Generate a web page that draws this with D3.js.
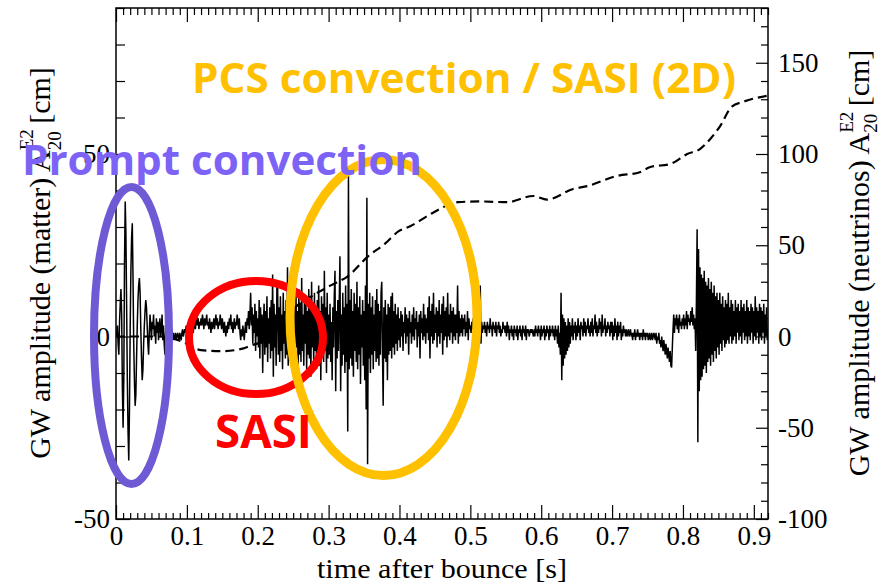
<!DOCTYPE html>
<html>
<head>
<meta charset="utf-8">
<script src="https://cdn.jsdelivr.net/npm/d3@7"></script>
<style>
  body { margin: 0; background: #fff; }
  svg { display: block; }
</style>
</head>
<body>
<svg id="chart" width="884" height="586"></svg>
<script>
// ---- tick labels ----
const timeTicks = [0, 0.1, 0.2, 0.3, 0.4, 0.5, 0.6, 0.7, 0.8, 0.9];
const matterTicks = [-50, 0, 50];
const neutrinoTicks = [-100, -50, 0, 50, 100, 150];

// ---- neutrino-induced amplitude A20 (dashed, right axis) ----
const neutrinoTime = [0, 0.03, 0.06, 0.08, 0.10, 0.12, 0.15, 0.18, 0.19, 0.21, 0.23, 0.25, 0.28, 0.303, 0.327, 0.356, 0.38, 0.399, 0.415, 0.448, 0.482, 0.514, 0.552, 0.589, 0.608, 0.645, 0.665, 0.707, 0.739, 0.754, 0.782, 0.806, 0.824, 0.838, 0.852, 0.869, 0.885, 0.92];
const neutrinoAmp = [0, 0, 0, -1, -4, -7.5, -8, -6.5, -5, -2, 6, 15, 23, 28, 33, 44, 51, 57.7, 60.4, 68, 73.6, 74, 73.6, 77, 75, 80.8, 82.4, 88, 90, 92.9, 94.5, 100, 102.7, 108, 115, 126, 128.6, 132];

// ---- matter amplitude A20 (solid, left axis), one sample per millisecond ----
const matterStep = 0.001;
const matterPrompt = [ // 0.000 - 0.099 s
  0,1,3,-2,-5,4,9,13,6,-14,
  -25,-12,20,37,28,8,-12,-26,-34,-20,
  2,18,27,31,16,-2,-12,-19,-16,-6,
  3,10,14,16,12,2,-6,-12,-9,-2,
  3,7,10,8,3,-2,-5,1,6,3,
  -1,4,2,6,0,3,-2,5,1,4,
  -1,3,5,0,2,6,-1,3,-2,-5,
  1,4,0,3,1,2,-1,1,0,2,
  0,1,-1,0,1,-1,0,1,0,-1,
  1,0,-1,1,2,0,1,2,1,3
];
const matterQuiet = [ // 0.100 - 0.199 s
  2,3,1,4,2,5,3,2,4,1,
  3,5,2,4,6,3,5,2,4,3,
  5,3,6,4,2,5,3,4,6,3,
  4,2,5,3,1,4,2,3,5,2,
  4,6,3,5,2,4,3,6,4,2,
  5,3,1,4,2,0,3,1,4,2,
  5,3,6,2,4,1,3,5,2,4,
  3,6,4,2,5,1,-1,2,0,3,
  1,-1,2,4,1,5,3,7,2,6,
  12,3,8,-2,6,1,9,-4,7,0
];
const matterSasi = [ // 0.200 - 0.299 s
  5,-3,10,-6,8,-2,6,-10,4,9,
  -5,7,-3,11,-7,5,-2,8,-6,10,
  -4,17,-11,9,-3,6,-8,13,15,-5,
  8,-7,11,-4,6,-9,12,-2,7,-6,
  10,-5,19,-8,6,-3,12,-7,9,-4,
  14,-6,8,-9,11,-3,7,-10,13,-5,
  9,-7,16,-4,6,-8,11,-2,10,-9,
  7,-5,13,-6,9,-11,15,-3,8,-7,
  12,-4,6,-9,10,-6,14,-8,7,-12,
  11,-5,9,-7,18,-4,8,-10,12,-6
];
const matterPcs = [ // 0.300 - 0.399 s
  6,-5,9,-7,4,-12,8,-3,11,18,
  -15,7,-6,10,-4,9,22,-15,6,-8,
  12,-5,8,-10,14,-7,9,-26,44,-9,
  10,-6,13,-8,7,-11,12,-4,9,-7,
  15,-9,8,-5,11,-13,6,-3,10,-8,
  7,-12,14,-20,38,-35,9,-6,12,-10,
  8,-5,11,-9,6,-4,10,-7,13,-6,
  9,-8,7,-5,12,15,-4,-19,8,-6,
  10,-7,6,-12,9,-5,8,-4,11,-6,
  12,-3,7,-5,9,-2,6,-4,8,-1
];
const matterPcsLate = [ // 0.400 - 0.499 s
  5,-3,7,0,6,-4,4,1,8,-2,
  6,0,5,-5,7,1,4,-2,6,0,
  8,-1,5,2,7,-3,4,0,6,-6,
  7,1,5,-1,9,0,6,-2,5,1,
  8,-1,11,-6,7,0,9,-2,12,-1,
  6,1,8,-3,7,0,10,-2,6,1,
  9,-5,11,-1,7,0,8,-3,12,0,
  6,-1,9,1,7,-2,8,0,6,-1,
  6,1,14,-2,7,0,5,1,6,0,
  5,2,6,0,4,1,7,-1,5,2
];
const matterCalm = [ // 0.500 - 0.599 s
  3,1,4,2,5,1,3,2,4,0,
  3,1,5,2,14,-2,4,1,3,2,
  4,1,3,0,4,2,3,1,5,2,
  3,0,4,2,3,1,4,0,3,2,
  4,1,3,0,2,1,4,2,3,1,
  3,0,4,1,3,-1,2,1,3,0,
  2,-1,3,1,2,0,3,-1,2,1,
  3,0,2,-1,3,1,2,0,3,-1,
  2,1,2,0,1,2,1,2,1,0,
  2,0,3,1,2,0,3,1,2,-1
];
const matterBurst = [ // 0.600 - 0.699 s
  3,0,2,1,3,-1,2,0,3,1,
  2,-1,3,0,2,1,3,0,2,-1,
  3,0,2,-2,3,-3,1,-5,12,-12,
  6,-8,5,-6,4,-5,3,-4,5,-3,
  4,-2,3,0,5,-1,3,1,4,-1,
  3,0,5,1,3,-1,4,2,3,0,
  5,1,4,0,3,2,5,1,3,0,
  4,1,5,0,3,2,6,1,4,0,
  3,1,5,2,4,0,6,1,3,2,
  5,0,3,1,4,2,3,0,4,1
];
const matterDip = [ // 0.700 - 0.799 s
  4,-1,3,0,5,1,3,-1,4,0,
  3,1,4,-1,2,0,3,1,2,0,
  2,0,1,2,0,1,2,0,1,-1,
  1,0,2,-1,1,0,2,0,1,-1,
  1,0,1,-1,2,0,1,-1,1,0,
  1,-1,0,1,-1,0,1,-1,0,1,
  0,-1,1,-2,0,-1,1,-2,-1,-3,
  0,-2,-4,-1,-3,-5,-2,-4,-6,-3,
  -5,-7,-4,-8,-8.5,-3,2,6,1,5,
  3,6,2,5,1,6,3,4,2,5
];
const matterFinal = [ // 0.800 - 0.920 s
  3,6,2,5,3,7,2,6,4,5,
  3,7,4,8,3,6,2,5,-4,10,
  29.4,-29,24,-15,19,-12,17,-11,16,-9,
  18,-8,15,-10,14,-7,16,-6,13,-8,
  15,-5,12,-7,14,-4,11,-6,12,-3,
  10,-5,12,-2,9,-4,11,-1,8,-3,
  10,-2,9,-1,12,-2,8,0,10,-2,
  9,-1,7,0,10,-2,8,1,9,-1,
  7,0,10,-2,8,1,9,-1,7,0,
  10,-2,8,0,7,-1,9,1,8,-2,
  7,0,11,-1,8,1,7,-2,9,0,
  8,-1,7,1,9,-2,6,0,8,-1,
  2
];

// ---- annotations ----
const regionLabels = ["Prompt convection", "PCS convection / SASI (2D)", "SASI"];

const plot = { left: 116, right: 768, top: 8, bottom: 519 };
const serif = "'Liberation Serif', 'Times New Roman', serif";
const sans = "'Open Sans', 'Noto Sans', sans-serif";

const svg = d3.select("#chart");

const x = d3.scaleLinear().domain([0, 0.92]).range([plot.left, plot.right]);
const yL = d3.scaleLinear().domain([-50, 90]).range([plot.bottom, plot.top]);
const yR = d3.scaleLinear().domain([-100, 180]).range([plot.bottom, plot.top]);

svg.append("defs").append("clipPath").attr("id", "plotClip")
  .append("rect")
  .attr("x", plot.left).attr("y", plot.top)
  .attr("width", plot.right - plot.left).attr("height", plot.bottom - plot.top);

// ---- series ----
const matter = [].concat(matterPrompt, matterQuiet, matterSasi, matterPcs, matterPcsLate,
  matterCalm, matterBurst, matterDip, matterFinal)
  .map((v, i) => [i * matterStep, v]);

const series = svg.append("g").attr("clip-path", "url(#plotClip)");

series.append("path")
  .datum(matter)
  .attr("fill", "none")
  .attr("stroke", "#000")
  .attr("stroke-width", 1.5)
  .attr("stroke-linejoin", "miter")
  .attr("d", d3.line().x(d => x(d[0])).y(d => yL(d[1])));

series.append("path")
  .datum(neutrinoTime.map((t, i) => [t, neutrinoAmp[i]]))
  .attr("fill", "none")
  .attr("stroke", "#000")
  .attr("stroke-width", 2.2)
  .attr("stroke-dasharray", "9,5")
  .attr("d", d3.line().curve(d3.curveMonotoneX).x(d => x(d[0])).y(d => yR(d[1])));

// ---- axes (ticks point into the frame) ----
function range(a, b, s) { const r = []; for (let v = a; v <= b + 1e-9; v += s) r.push(+v.toFixed(4)); return r; }
const minorT = range(0, 0.92, 0.01).filter(v => Math.abs(v * 10 - Math.round(v * 10)) > 1e-6);
const minorL = range(-50, 90, 10).filter(v => v % 50 !== 0);
const minorR = range(-100, 180, 10).filter(v => v % 50 !== 0);
const plain = d => String(d);

function styleAxis(g) {
  g.select(".domain").remove();
  g.selectAll("line").attr("stroke", "#000").attr("stroke-width", 1.2);
  g.selectAll("text").attr("font-family", serif).attr("font-size", 27).attr("fill", "#000");
}

// bottom
svg.append("g").attr("transform", `translate(0,${plot.bottom})`)
  .call(d3.axisBottom(x).tickValues(minorT).tickSize(-6).tickFormat("")).call(styleAxis);
svg.append("g").attr("transform", `translate(0,${plot.bottom})`)
  .call(d3.axisBottom(x).tickValues(timeTicks).tickSize(-14).tickPadding(7)
    .tickFormat(d => d === 0 ? "0" : d3.format(".1f")(d))).call(styleAxis);
// top
svg.append("g").attr("transform", `translate(0,${plot.top})`)
  .call(d3.axisTop(x).tickValues(minorT).tickSize(-7).tickFormat("")).call(styleAxis);
svg.append("g").attr("transform", `translate(0,${plot.top})`)
  .call(d3.axisTop(x).tickValues(timeTicks).tickSize(-14).tickFormat("")).call(styleAxis);
// left
svg.append("g").attr("transform", `translate(${plot.left},0)`)
  .call(d3.axisLeft(yL).tickValues(minorL).tickSize(-9).tickFormat("")).call(styleAxis);
svg.append("g").attr("transform", `translate(${plot.left},0)`)
  .call(d3.axisLeft(yL).tickValues(matterTicks).tickSize(-14).tickPadding(6).tickFormat(plain)).call(styleAxis);
// right
svg.append("g").attr("transform", `translate(${plot.right},0)`)
  .call(d3.axisRight(yR).tickValues(minorR).tickSize(-7).tickFormat("")).call(styleAxis);
svg.append("g").attr("transform", `translate(${plot.right},0)`)
  .call(d3.axisRight(yR).tickValues(neutrinoTicks).tickSize(-12).tickPadding(10).tickFormat(plain)).call(styleAxis);

// frame
svg.append("rect")
  .attr("x", plot.left).attr("y", plot.top)
  .attr("width", plot.right - plot.left).attr("height", plot.bottom - plot.top)
  .attr("fill", "none").attr("stroke", "#000").attr("stroke-width", 1.5);

// ---- axis titles ----
svg.append("text")
  .attr("x", 442).attr("y", 578)
  .attr("text-anchor", "middle")
  .attr("font-family", serif).attr("font-size", 28)
  .attr("textLength", 250).attr("lengthAdjust", "spacingAndGlyphs")
  .text("time after bounce [s]");

function ampTitle(baseX, midY, label, supRise, subDrop) {
  const t = svg.append("text")
    .attr("transform", `translate(${baseX},${midY}) rotate(-90)`)
    .attr("font-family", serif).attr("font-size", 30).attr("fill", "#000");
  t.append("tspan").text(label + " A");
  const sup = t.append("tspan").attr("font-size", 19).attr("dy", -supRise).text("E2");
  const w = sup.node().getComputedTextLength();
  t.append("tspan").attr("font-size", 19).attr("dx", -w).attr("dy", supRise + subDrop).text("20");
  t.append("tspan").attr("dy", -subDrop).text(" [cm]");
  const bb = t.node().getBBox();
  t.attr("x", -bb.width / 2 - bb.x);
}
ampTitle(50, 263, "GW amplitude (matter)", 17, 11);
ampTitle(869, 263, "GW amplitude (neutrinos)", 16, 8);

// ---- region highlights ----
const marks = svg.append("g").attr("fill", "none").attr("stroke-width", 8);
marks.append("ellipse").attr("cx", 131.5).attr("cy", 335.5).attr("rx", 37.5).attr("ry", 148.5).attr("stroke", "#7059D4");
marks.append("ellipse").attr("cx", 256).attr("cy", 337.5).attr("rx", 67).attr("ry", 56.5).attr("stroke", "#FF0000");
marks.append("ellipse").attr("cx", 383.5).attr("cy", 317.5).attr("rx", 93.5).attr("ry", 158).attr("stroke", "#FFC000").attr("stroke-width", 9);

const labels = svg.append("g").attr("font-family", sans).attr("font-weight", 700);
labels.append("text").attr("x", 22).attr("y", 175).attr("font-size", 42)
  .attr("fill", "#7C63F5").attr("textLength", 400).attr("lengthAdjust", "spacingAndGlyphs")
  .text(regionLabels[0]);
labels.append("text").attr("x", 192).attr("y", 93).attr("font-size", 42)
  .attr("fill", "#FFC000").attr("textLength", 544).attr("lengthAdjust", "spacingAndGlyphs")
  .text(regionLabels[1]);
labels.append("text").attr("x", 215).attr("y", 448).attr("font-size", 46)
  .attr("fill", "#FF0000").attr("textLength", 97).attr("lengthAdjust", "spacingAndGlyphs")
  .text(regionLabels[2]);
</script>
</body>
</html>
